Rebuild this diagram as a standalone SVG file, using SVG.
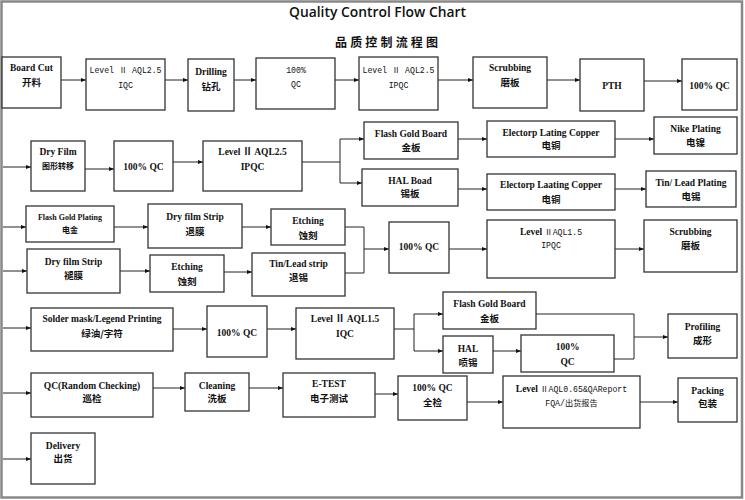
<svg xmlns="http://www.w3.org/2000/svg" width="745" height="500" viewBox="0 0 745 500">
<defs>
<marker id="ah" markerWidth="5" markerHeight="4" refX="5" refY="2" orient="auto" markerUnits="userSpaceOnUse">
<path d="M0,0 L5,2 L0,4 Z" fill="#111"/>
</marker>
<style>
.bx{fill:#fff;stroke:#333;stroke-width:1.3}
.ln{fill:none;stroke:#222;stroke-width:1}
.ar{fill:none;stroke:#222;stroke-width:1;marker-end:url(#ah)}
text{text-anchor:middle;fill:#111}
.en{font-family:"Liberation Serif","Noto Sans CJK SC",serif;font-weight:bold;font-size:9.5px}
.zh{font-family:"Noto Sans CJK SC",sans-serif;font-weight:bold;font-size:9.5px}
.sm{font-size:8px}
.mono{font-family:"Liberation Mono","Noto Sans CJK SC",monospace;font-size:8.2px}
</style>
</defs>
<rect x="0" y="0" width="745" height="500" fill="#fff"/>
<rect x="1.5" y="1.5" width="740.5" height="496" fill="none" stroke="#888" stroke-width="2.5"/>
<text x="377.5" y="17" font-family="'Open Sans',sans-serif" font-weight="600" font-size="14.5" textLength="177" lengthAdjust="spacingAndGlyphs">Quality Control Flow Chart</text>
<text x="386.5" y="47" font-family="'Noto Sans CJK SC',sans-serif" font-weight="bold" font-size="12" textLength="103" lengthAdjust="spacing">品质控制流程图</text>

<g id="connectors">
<path class="ar" d="M61,80H86"/>
<path class="ar" d="M165,80H188"/>
<path class="ar" d="M234,80H256"/>
<path class="ar" d="M335,80H359"/>
<path class="ar" d="M438,80H473"/>
<path class="ar" d="M547,80H580"/>
<path class="ar" d="M644,81H682"/>
<path class="ar" d="M3,167H31"/>
<path class="ar" d="M85,169H114"/>
<path class="ar" d="M173,162H203"/>
<path class="ln" d="M302,162H340M340,139V183"/>
<path class="ar" d="M340,139H364"/>
<path class="ar" d="M340,183H362"/>
<path class="ar" d="M458,139H487"/>
<path class="ar" d="M615,139H654"/>
<path class="ar" d="M458,189H487"/>
<path class="ar" d="M615,189H646"/>
<path class="ar" d="M3,227H26"/>
<path class="ar" d="M114,227H148"/>
<path class="ar" d="M242,227H271"/>
<path class="ln" d="M345,227H364V273H345"/>
<path class="ar" d="M364,249H389"/>
<path class="ar" d="M3,271H27"/>
<path class="ar" d="M120,271H150"/>
<path class="ar" d="M224,272H252"/>
<path class="ar" d="M449,249H487"/>
<path class="ar" d="M615,249H644"/>
<path class="ar" d="M3,328H31"/>
<path class="ar" d="M173,329H207"/>
<path class="ar" d="M267,329H296"/>
<path class="ln" d="M394,329H414M414,314V351"/>
<path class="ar" d="M414,314H443"/>
<path class="ar" d="M414,351H443"/>
<path class="ar" d="M493,351H521"/>
<path class="ln" d="M536,314H634V359H614"/>
<path class="ar" d="M634,337H668"/>
<path class="ar" d="M3,393H31"/>
<path class="ar" d="M153,388H185"/>
<path class="ar" d="M249,388H283"/>
<path class="ar" d="M375,394H398"/>
<path class="ar" d="M467,402H503"/>
<path class="ar" d="M640,402H678"/>
<path class="ar" d="M3,459H31"/>
</g>

<g id="n1"><rect class="bx" x="2" y="57" width="59" height="51"/><text class="en" x="31.5" y="71">Board Cut</text><text class="zh" x="31.5" y="86">开料</text></g>
<g id="n2"><rect class="bx" x="86" y="59" width="79" height="51"/><text class="mono" x="125.5" y="73">Level Ⅱ AQL2.5</text><text class="mono" x="125.5" y="88">IQC</text></g>
<g id="n3"><rect class="bx" x="188" y="59" width="46" height="52"/><text class="en" x="211" y="75">Drilling</text><text class="zh" x="211" y="90">钻孔</text></g>
<g id="n4"><rect class="bx" x="256" y="58" width="79" height="51"/><text class="mono" x="296" y="73">100%</text><text class="mono" x="296" y="87">QC</text></g>
<g id="n5"><rect class="bx" x="359" y="57" width="79" height="53"/><text class="mono" x="398.5" y="73">Level Ⅱ AQL2.5</text><text class="mono" x="398.5" y="88">IPQC</text></g>
<g id="n6"><rect class="bx" x="473" y="57" width="74" height="51"/><text class="en" x="510" y="71">Scrubbing</text><text class="zh" x="510" y="86">磨板</text></g>
<g id="n7"><rect class="bx" x="580" y="59" width="64" height="52"/><text class="en" x="612" y="89">PTH</text></g>
<g id="n8"><rect class="bx" x="682" y="59" width="55" height="51"/><text class="en" x="709.5" y="89">100% QC</text></g>

<g id="n9"><rect class="bx" x="31" y="141" width="54" height="50"/><text class="en" x="58" y="155">Dry Film</text><text class="zh sm" x="58" y="169">图形转移</text></g>
<g id="n10"><rect class="bx" x="114" y="141" width="59" height="50"/><text class="en" x="143.5" y="170">100% QC</text></g>
<g id="n11"><rect class="bx" x="203" y="141" width="99" height="50"/><text class="en" x="252.5" y="155">Level Ⅱ AQL2.5</text><text class="en" x="252.5" y="170">IPQC</text></g>
<g id="n12"><rect class="bx" x="364" y="122" width="94" height="37"/><text class="en" x="411" y="137">Flash Gold Board</text><text class="zh" x="411" y="151">金板</text></g>
<g id="n13"><rect class="bx" x="362" y="169" width="96" height="37"/><text class="en" x="410" y="184">HAL Boad</text><text class="zh" x="410" y="197">锡板</text></g>
<g id="n14"><rect class="bx" x="487" y="121" width="128" height="36"/><text class="en" x="551" y="136">Electorp Lating Copper</text><text class="zh" x="551" y="149">电铜</text></g>
<g id="n15"><rect class="bx" x="487" y="174" width="128" height="36"/><text class="en" x="551" y="188">Electorp Laating Copper</text><text class="zh" x="551" y="203">电铜</text></g>
<g id="n16"><rect class="bx" x="654" y="117" width="83" height="37"/><text class="en" x="695.5" y="132">Nike Plating</text><text class="zh" x="695.5" y="146">电镍</text></g>
<g id="n17"><rect class="bx" x="646" y="171" width="90" height="36"/><text class="en" x="691" y="186">Tin/ Lead Plating</text><text class="zh" x="691" y="200">电锡</text></g>

<g id="n18"><rect class="bx" x="26" y="206" width="88" height="36"/><text class="en sm" x="70" y="220">Flash Gold Plating</text><text class="zh sm" x="70" y="233">电金</text></g>
<g id="n19"><rect class="bx" x="148" y="204" width="94" height="44"/><text class="en" x="195" y="220">Dry film Strip</text><text class="zh" x="195" y="235">退膜</text></g>
<g id="n20"><rect class="bx" x="271" y="209" width="74" height="36"/><text class="en" x="308" y="224">Etching</text><text class="zh" x="308" y="239">蚀刻</text></g>
<g id="n21"><rect class="bx" x="27" y="249" width="93" height="44"/><text class="en" x="73.5" y="265">Dry film Strip</text><text class="zh" x="73.5" y="279">褪膜</text></g>
<g id="n22"><rect class="bx" x="150" y="255" width="74" height="37"/><text class="en" x="187" y="270">Etching</text><text class="zh" x="187" y="285">蚀刻</text></g>
<g id="n23"><rect class="bx" x="252" y="253" width="93" height="43"/><text class="en" x="298.5" y="267">Tin/Lead strip</text><text class="zh" x="298.5" y="281">退锡</text></g>
<g id="n24"><rect class="bx" x="389" y="222" width="60" height="51"/><text class="en" x="419" y="250">100% QC</text></g>
<g id="n25"><rect class="bx" x="487" y="220" width="128" height="58"/><text x="551" y="235"><tspan class="en">Level </tspan><tspan class="mono">ⅡAQL1.5</tspan></text><text class="mono" x="551" y="248">IPQC</text></g>
<g id="n26"><rect class="bx" x="644" y="220" width="93" height="52"/><text class="en" x="690.5" y="235">Scrubbing</text><text class="zh" x="690.5" y="249">磨板</text></g>

<g id="n27"><rect class="bx" x="31" y="308" width="142" height="43"/><text class="en" x="102" y="322">Solder mask/Legend Printing</text><text class="zh" x="102" y="337">绿油/字符</text></g>
<g id="n28"><rect class="bx" x="207" y="306" width="60" height="51"/><text class="en" x="237" y="336">100% QC</text></g>
<g id="n29"><rect class="bx" x="296" y="308" width="98" height="51"/><text class="en" x="345" y="322">Level Ⅱ AQL1.5</text><text class="en" x="345" y="337">IQC</text></g>
<g id="n30"><rect class="bx" x="443" y="292" width="93" height="37"/><text class="en" x="489.5" y="307">Flash Gold Board</text><text class="zh" x="489.5" y="322">金板</text></g>
<g id="n31"><rect class="bx" x="443" y="336" width="50" height="37"/><text class="en" x="468" y="352">HAL</text><text class="zh" x="468" y="366">喷锡</text></g>
<g id="n32"><rect class="bx" x="521" y="335" width="93" height="37"/><text class="en" x="567.5" y="350">100%</text><text class="en" x="567.5" y="365">QC</text></g>
<g id="n33"><rect class="bx" x="668" y="314" width="69" height="44"/><text class="en" x="702.5" y="330">Profiling</text><text class="zh" x="702.5" y="344">成形</text></g>

<g id="n34"><rect class="bx" x="31" y="373" width="122" height="44"/><text class="en" x="92" y="389">QC(Random Checking)</text><text class="zh" x="92" y="402">巡检</text></g>
<g id="n35"><rect class="bx" x="185" y="373" width="64" height="38"/><text class="en" x="217" y="389">Cleaning</text><text class="zh" x="217" y="402">洗板</text></g>
<g id="n36"><rect class="bx" x="283" y="373" width="92" height="44"/><text class="en" x="329" y="387">E-TEST</text><text class="zh" x="329" y="402">电子测试</text></g>
<g id="n37"><rect class="bx" x="398" y="376" width="69" height="44"/><text class="en" x="432.5" y="391">100% QC</text><text class="zh" x="432.5" y="406">全检</text></g>
<g id="n38"><rect class="bx" x="503" y="376" width="137" height="52"/><text x="571.5" y="392"><tspan class="en">Level  </tspan><tspan class="mono">ⅡAQL0.65&amp;QAReport</tspan></text><text class="mono" x="571.5" y="406">FQA/出货报告</text></g>
<g id="n39"><rect class="bx" x="678" y="378" width="59" height="44"/><text class="en" x="707.5" y="394">Packing</text><text class="zh" x="707.5" y="407">包装</text></g>
<g id="n40"><rect class="bx" x="31" y="433" width="64" height="51"/><text class="en" x="63" y="449">Delivery</text><text class="zh" x="63" y="462">出货</text></g>
</svg>
